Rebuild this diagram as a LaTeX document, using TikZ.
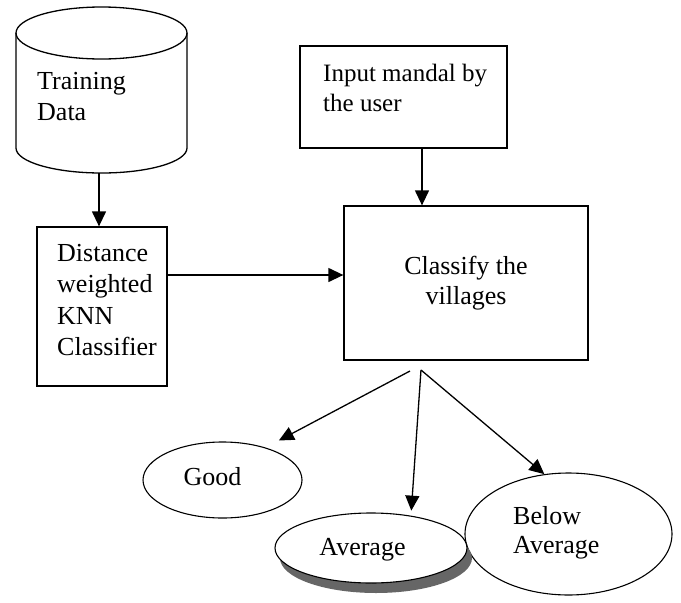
\documentclass[tikz,border=0pt]{standalone}
\usepackage{fontspec}
\setmainfont{Liberation Serif}
\usetikzlibrary{arrows.meta,shapes.geometric,shadows,calc}
\begin{document}
\begin{tikzpicture}[x=1pt,y=-1pt,
  box/.style={draw, line width=1.3pt, inner sep=0pt},
  oval/.style={draw, ellipse, line width=1.1pt, inner sep=0pt},
  lbl/.style={inner sep=0pt, align=left, font=\fontsize{26}{31}\selectfont},
  arr/.style={line width=1.3pt, -{Triangle[length=15pt,width=14pt]}}]
\useasboundingbox (0,0) rectangle (681,603);

% cylinder (drawn directly)
\draw[line width=1.3pt] (101.5,33) ellipse[x radius=85.5, y radius=26];
\draw[line width=1.3pt] (16,33) -- (16,148)
  arc[start angle=180, end angle=0, x radius=85.5, y radius=25] -- (187,33);
\coordinate (trainbot) at (99,173);
\node[lbl, anchor=west] (traintxt) at (37,97) {Training\\Data};

% boxes
\node[box, minimum width=130pt, minimum height=159pt] (dist) at (102,306.5) {};
\node[lbl, anchor=west, font=\fontsize{26}{31.3}\selectfont] (disttxt) at (57,300) {Distance\\weighted\\KNN\\Classifier};

\node[box, minimum width=207pt, minimum height=102pt] (inp) at (403.5,97) {};
\node[lbl, anchor=west, font=\fontsize{25}{30}\selectfont] (inptxt) at (323,88) {Input mandal by\\the user};

\node[box, minimum width=244pt, minimum height=154pt, align=center,
      font=\fontsize{26}{30}\selectfont] (cls) at (466,283) {Classify the\\villages};

% ellipses
\node[oval, minimum width=159pt, minimum height=76pt] (good) at (222.5,480) {};
\node[lbl] (goodtxt) at (212.5,477) {Good};

\node[oval, minimum width=207pt, minimum height=122pt, fill=white] (below) at (568.5,534) {};
\node[lbl, anchor=west, font=\fontsize{26}{29}\selectfont] (belowtxt) at (513,532.5) {Below\\Average};

\node[oval, minimum width=192pt, minimum height=70pt, fill=white,
      drop shadow={shadow xshift=5pt, shadow yshift=-10pt, fill=black!60, opacity=1}] (avg) at (371,548) {};
\node[lbl] (avgtxt) at (362.5,550) {Average};

% connectors
\coordinate (s1) at (410,371);
\coordinate (s2) at (421,370);
\draw[arr] (trainbot) -- (trainbot |- dist.north);
\draw[arr] ([yshift=31.5pt]dist.east) -- ([yshift=31.5pt]dist.east -| cls.west);
\draw[arr] ([xshift=18.5pt]inp.south) -- ([xshift=18.5pt]inp.south |- cls.north);
\draw[arr, shorten >=15pt] (s1) -- (good.37);
\draw[arr, shorten >=5pt] (s2) -- (avg.39);
\draw[arr] (s2) -- (below.112);
\end{tikzpicture}
\end{document}
